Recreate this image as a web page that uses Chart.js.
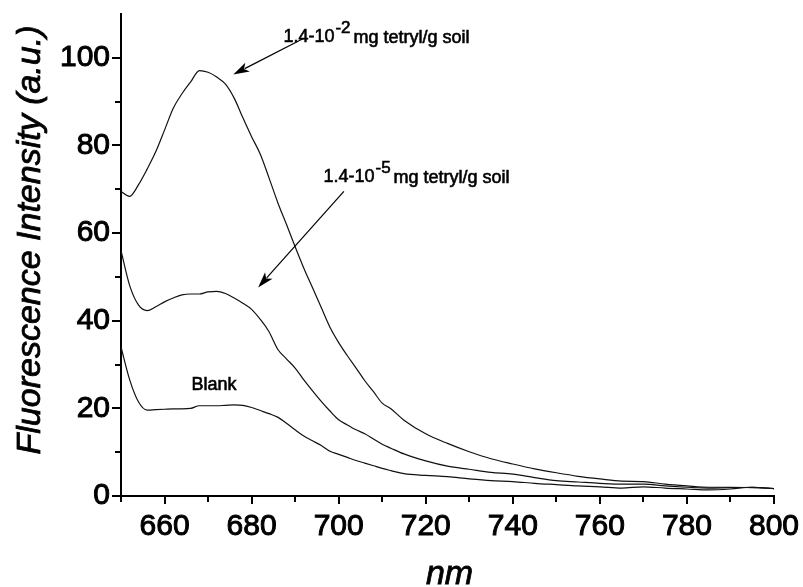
<!DOCTYPE html>
<html>
<head>
<meta charset="utf-8">
<script src="https://cdn.jsdelivr.net/npm/chart.js@4.4.1/dist/chart.umd.min.js"></script>
<style>
html, body { margin: 0; padding: 0; background: #fff; }
#wrap { width: 803px; height: 587px; position: relative; }
</style>
</head>
<body>
<div id="wrap"><canvas id="myChart"></canvas></div>
<script>

// wavelength (nm)
const wavelengths = [650, 652, 654, 656, 658, 660, 662, 664, 666, 668, 670, 672, 674, 676, 678, 680,
    682, 684, 686, 688, 690, 692, 694, 696, 698, 700, 702, 704, 706, 708, 710, 712, 715, 720, 725,
    730, 735, 740, 745, 750, 755, 760, 765, 770, 775, 780, 785, 790, 795, 800];

// 1.4-10^-2 mg tetryl/g soil
const highDose = [69.5, 68.4, 71.0, 74.6, 78.6, 83.5, 88.5, 91.8, 94.5, 97.1, 96.7, 95.6, 94.0, 90.8, 86.3, 82.0,
    78.0, 72.6, 67.0, 62.0, 56.9, 52.0, 47.5, 43.0, 38.5, 35.0, 32.0, 29.2, 26.3, 23.8, 21.2, 19.9, 17.3, 14.2, 12.0,
    10.1, 8.5, 7.3, 6.2, 5.3, 4.5, 3.9, 3.4, 3.3, 2.7, 2.3, 2.0, 2.0, 1.9, 1.7];

// 1.4-10^-5 mg tetryl/g soil
const lowDose = [56.0, 48.0, 43.6, 42.3, 43.2, 44.3, 45.2, 45.9, 46.1, 46.1, 46.6, 46.7, 46.2, 45.2, 44.0, 42.6,
    40.3, 37.5, 33.5, 31.3, 29.2, 26.5, 24.0, 21.6, 19.4, 17.4, 16.2, 15.1, 14.2, 13.0, 11.8, 10.9, 9.6, 8.0, 6.8,
    6.1, 5.4, 5.0, 4.2, 3.5, 3.2, 2.9, 2.7, 2.7, 2.3, 2.0, 1.8, 1.9, 2.0, 1.7];

const blank = [34.0, 26.5, 21.5, 19.6, 19.7, 19.8, 19.9, 19.9, 20.0, 20.6, 20.6, 20.6, 20.7, 20.8, 20.7, 20.2,
    19.5, 18.8, 18.0, 16.6, 15.1, 13.7, 12.6, 11.5, 10.2, 9.5, 8.8, 8.1, 7.5, 6.9, 6.3, 5.8, 5.1, 4.7, 4.4,
    3.9, 3.5, 3.3, 2.9, 2.6, 2.3, 2.1, 1.8, 2.1, 1.8, 1.6, 1.4, 1.6, 2.0, 1.7];

const xTickValues = [650, 660, 670, 680, 690, 700, 710, 720, 730, 740, 750, 760, 770, 780, 790, 800];
const yTickValues = [0, 10, 20, 30, 40, 50, 60, 70, 80, 90, 100];

const FONT = '"Liberation Sans", Arial, sans-serif';

const toPoints = (vals) => vals.map((v, i) => ({ x: wavelengths[i], y: v }));

// labels + arrows, placed in data units
const notes = [
    { type: 'text', x: 687.3, y: 103.7, main: '1.4-10', sup: '-2', rest: 'mg tetryl/g soil' },
    { type: 'text', x: 696.5, y: 71.7, main: '1.4-10', sup: '-5', rest: 'mg tetryl/g soil' },
    { type: 'text', x: 666.2, y: 24.2, main: 'Blank' },
    { type: 'arrow', x1: 691.9, y1: 104.4, x2: 675.8, y2: 96.2 },
    { type: 'arrow', x1: 701.2, y1: 69.5, x2: 681.5, y2: 47.6 },
];

function heavyText(ctx, txt, x, y, w) {
    ctx.lineWidth = w;
    ctx.strokeText(txt, x, y);
    ctx.fillText(txt, x, y);
}

const tickMarks = {
    id: 'tickMarks',
    afterDraw(chart) {
        const ctx = chart.ctx;
        const xs = chart.scales.x, ys = chart.scales.y;
        ctx.save();
        ctx.strokeStyle = '#000';
        ctx.lineWidth = 2;
        xs.ticks.forEach(t => {
            const px = Math.round(xs.getPixelForValue(t.value));
            const len = t.value % 20 === 0 ? 8 : 6;
            ctx.beginPath();
            ctx.moveTo(px, xs.top);
            ctx.lineTo(px, xs.top + len);
            ctx.stroke();
        });
        ys.ticks.forEach(t => {
            const py = Math.round(ys.getPixelForValue(t.value));
            const len = t.value % 20 === 0 ? 9 : 6;
            ctx.beginPath();
            ctx.moveTo(ys.right, py);
            ctx.lineTo(ys.right - len, py);
            ctx.stroke();
        });

        // axis titles
        ctx.fillStyle = '#000';
        ctx.font = 'italic 34px ' + FONT;
        ctx.textAlign = 'center';
        ctx.textBaseline = 'alphabetic';
        heavyText(ctx, 'nm', (xs.left + xs.right) / 2 + 2, 584, 0.8);
        ctx.translate(40, 240);
        ctx.rotate(-Math.PI / 2);
        heavyText(ctx, 'Fluorescence Intensity (a.u.)', 0, 0, 0.8);
        ctx.restore();
    }
};

const annotations = {
    id: 'annotations',
    afterDatasetsDraw(chart) {
        const ctx = chart.ctx;
        const xs = chart.scales.x, ys = chart.scales.y;
        ctx.save();
        ctx.fillStyle = '#000';
        ctx.strokeStyle = '#000';
        ctx.textAlign = 'left';
        ctx.textBaseline = 'alphabetic';
        notes.forEach(n => {
            if (n.type === 'text') {
                let px = xs.getPixelForValue(n.x);
                const py = ys.getPixelForValue(n.y);
                ctx.font = '18px ' + FONT;
                heavyText(ctx, n.main, px, py, 0.6);
                px += ctx.measureText(n.main).width + 1;
                if (n.sup) {
                    ctx.font = '17px ' + FONT;
                    heavyText(ctx, n.sup, px, py - 9, 0.6);
                    px += ctx.measureText(n.sup).width + 3;
                    ctx.font = '18px ' + FONT;
                    heavyText(ctx, n.rest, px, py + 1, 0.6);
                }
            } else {
                const ax = xs.getPixelForValue(n.x1), ay = ys.getPixelForValue(n.y1);
                const bx = xs.getPixelForValue(n.x2), by = ys.getPixelForValue(n.y2);
                const ang = Math.atan2(by - ay, bx - ax);
                const hl = 16, hw = 5;
                ctx.lineWidth = 1.2;
                ctx.beginPath();
                ctx.moveTo(ax, ay);
                ctx.lineTo(bx - Math.cos(ang) * hl * 0.8, by - Math.sin(ang) * hl * 0.8);
                ctx.stroke();
                ctx.beginPath();
                ctx.moveTo(bx, by);
                ctx.lineTo(bx - Math.cos(ang) * hl - Math.sin(ang) * hw, by - Math.sin(ang) * hl + Math.cos(ang) * hw);
                ctx.lineTo(bx - Math.cos(ang) * hl * 0.75, by - Math.sin(ang) * hl * 0.75);
                ctx.lineTo(bx - Math.cos(ang) * hl + Math.sin(ang) * hw, by - Math.sin(ang) * hl - Math.cos(ang) * hw);
                ctx.closePath();
                ctx.fill();
            }
        });
        ctx.restore();
    }
};

const lineStyle = {
    borderColor: '#111',
    borderWidth: 1.2,
    pointRadius: 0,
    fill: false,
    cubicInterpolationMode: 'monotone',
};

const data = {
    datasets: [
        { label: '1.4-10-2 mg tetryl/g soil', data: toPoints(highDose), ...lineStyle },
        { label: '1.4-10-5 mg tetryl/g soil', data: toPoints(lowDose), ...lineStyle },
        { label: 'Blank', data: toPoints(blank), ...lineStyle },
    ]
};

const config = {
    type: 'line',
    data: data,
    options: {
        responsive: true,
        maintainAspectRatio: false,
        animation: false,
        layout: { padding: { top: 14, right: 29, left: 0, bottom: 0 } },
        plugins: {
            legend: { display: false },
            tooltip: { enabled: false },
        },
        scales: {
            x: {
                type: 'linear',
                min: 650,
                max: 800,
                afterBuildTicks: (scale) => { scale.ticks = xTickValues.map(v => ({ value: v })); },
                afterFit: (scale) => { scale.height = 91; scale.paddingLeft = 0; scale.paddingRight = 0; },
                ticks: {
                    color: '#000',
                    font: { family: FONT, size: 30 },
                    textStrokeColor: '#000',
                    textStrokeWidth: 1,
                    padding: 5,
                    maxRotation: 0,
                    autoSkip: false,
                    callback: (v) => (v % 20 === 0 ? String(v) : ''),
                },
                grid: { display: false, drawTicks: true, tickLength: 8 },
                border: { display: true, color: '#000', width: 2 },
            },
            y: {
                type: 'linear',
                min: 0,
                max: 110,
                afterBuildTicks: (scale) => { scale.ticks = yTickValues.map(v => ({ value: v })); },
                afterFit: (scale) => { scale.width = 121; scale.paddingTop = 0; scale.paddingBottom = 0; },
                ticks: {
                    color: '#000',
                    font: { family: FONT, size: 30 },
                    textStrokeColor: '#000',
                    textStrokeWidth: 1,
                    padding: 3,
                    autoSkip: false,
                    callback: (v) => (v % 20 === 0 ? String(v) : ''),
                },
                grid: { display: false, drawTicks: true, tickLength: 8 },
                border: { display: true, color: '#000', width: 2 },
            }
        }
    },
    plugins: [tickMarks, annotations]
};

let myChart = new Chart(document.getElementById('myChart'), config);

</script>
</body>
</html>
